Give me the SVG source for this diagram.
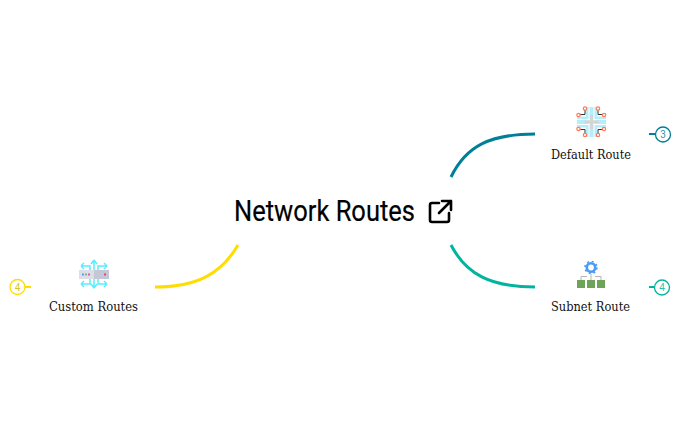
<svg xmlns="http://www.w3.org/2000/svg" width="681" height="422" viewBox="0 0 681 422">
<style>
.edge{fill:none;stroke-width:3}
.stub{fill:none;stroke-width:2}
.lbl{font-family:"Roboto Slab","DejaVu Serif","Liberation Serif",serif;font-size:13px;fill:#111}
.title{font-family:Roboto,"Liberation Sans",sans-serif;font-size:29px;fill:#000;stroke:#000;stroke-width:.2}
.cnt{font-family:Roboto,"Liberation Sans",sans-serif;font-size:10px;text-anchor:middle;fill-opacity:.85}
.badge{fill:#fff;stroke-width:1.3}
.w{fill:none;stroke:#333;stroke-width:1}
.pad{fill:#fff;stroke:#ff7a59;stroke-width:1.2}
</style>
<rect width="681" height="422" fill="#fff"/>
<g id="connectors">
<path class="edge" stroke="#007f99" d="M451 177C466 146 490 134 535 134"/>
<path class="edge" stroke="#00b5a0" d="M451 245C466 274 490 287 535 287"/>
<path class="edge" stroke="#ffdd00" d="M238 245C221 274 197 287 155 287"/>
<path class="stub" stroke="#007f99" d="M649 134H656"/>
<path class="stub" stroke="#00b5a0" d="M649 287H656"/>
<path class="stub" stroke="#ffdd00" d="M24 287H31"/>
</g>
<g id="root">
<text class="title" x="234" y="221" textLength="181" lengthAdjust="spacingAndGlyphs">Network Routes</text>
<g fill="none" stroke="#000" stroke-width="2.6" stroke-linecap="round" stroke-linejoin="round">
<path d="M439 203H432Q430 203 430 205V220Q430 222 432 222H447Q449 222 449 220V213"/>
<path d="M442 201H451V210M451 201L439 213"/>
</g>
</g>
<g id="default-route">
<g fill="#b5eef8"><rect x="586" y="107" width="11" height="30"/><rect x="577" y="116.500" width="29" height="11"/></g>
<path d="M589 107V137M594 107V137M577 119.500H606M577 124.500H606" stroke="#fff" stroke-width="1"/>
<path d="M591.500 115V129M584.500 122H598.500" stroke="#d5d5d8" stroke-width="3"/>
<path class="w" d="M585 108V114.500H579M598 108V114.500H604M585 136V129.500H579M598 136V129.500H604"/>
<g class="pad"><circle cx="585" cy="108.500" r="1.700"/><circle cx="598" cy="108.500" r="1.700"/><circle cx="578.500" cy="115" r="1.700"/><circle cx="604" cy="115" r="1.700"/><circle cx="578.500" cy="129" r="1.700"/><circle cx="604" cy="129" r="1.700"/><circle cx="585" cy="135" r="1.700"/><circle cx="598" cy="135" r="1.700"/></g>
<text class="lbl" x="551" y="159" textLength="80" lengthAdjust="spacingAndGlyphs">Default Route</text>
<circle class="badge" stroke="#007f99" cx="663" cy="134.500" r="7.500"/>
<text class="cnt" fill="#007f99" x="663" y="138">3</text>
</g>
<g id="subnet-route">
<circle cx="591" cy="267.500" r="4.200" fill="#fff" stroke="#4a9bf5" stroke-width="2.600"/>
<circle cx="591" cy="267.500" r="6" fill="none" stroke="#4a9bf5" stroke-width="1.600" stroke-dasharray="2 2.710"/>
<path d="M591 274V280M581 280V276.500H587M601 280V276.500H595" fill="none" stroke="#b5b5b5" stroke-width="1"/>
<g fill="#6fa35a"><rect x="577" y="280" width="8" height="8"/><rect x="587" y="280" width="8" height="8"/><rect x="597" y="280" width="8" height="8"/></g>
<text class="lbl" x="551" y="311" textLength="79" lengthAdjust="spacingAndGlyphs">Subnet Route</text>
<circle class="badge" stroke="#00b5a0" cx="662" cy="287.500" r="7.500"/>
<text class="cnt" fill="#00b5a0" x="662" y="291">4</text>
</g>
<g id="custom-routes">
<path d="M94 260V288M94 260L91 264M94 260L97 264M94 288L91 284M94 288L97 284M81 266H90V272M81 266L84 263M81 266L84 269M107 266H98V272M107 266L104 263M107 266L104 269M81 284H90V278M81 284L84 281M81 284L84 287M107 284H98V278M107 284L104 281M107 284L104 287" fill="none" stroke="#5cecff" stroke-width="1.500"/>
<rect x="79" y="270" width="30" height="9" fill="#dcdfe8"/><rect x="94" y="270" width="15" height="9" fill="#c4c8d6"/>
<rect x="82" y="273.500" width="2" height="2" fill="#5aa0e8"/><rect x="85" y="273.500" width="2" height="2" fill="#6fc48a"/><rect x="88" y="273.500" width="2" height="2" fill="#e85a9a"/><rect x="104" y="273.500" width="2" height="2" fill="#e8407a"/>
<text class="lbl" x="49" y="311" textLength="89" lengthAdjust="spacingAndGlyphs">Custom Routes</text>
<circle class="badge" stroke="#ffdd00" cx="17.500" cy="287" r="7.500"/>
<text class="cnt" fill="#d4b800" x="17.500" y="290.500">4</text>
</g>
</svg>
